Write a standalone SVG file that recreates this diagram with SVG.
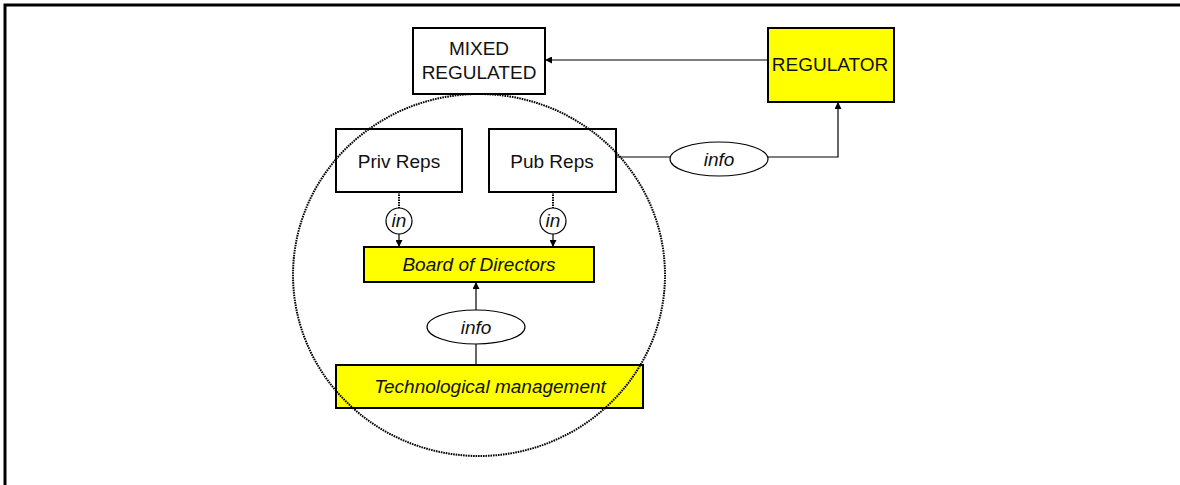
<svg xmlns="http://www.w3.org/2000/svg" width="1180" height="485" viewBox="0 0 1180 485">
  <defs>
    <marker id="arrow" viewBox="0 0 10 10" refX="10" refY="5" markerWidth="8" markerHeight="7" markerUnits="userSpaceOnUse" orient="auto">
      <path d="M0,0 L10,5 L0,10 z" fill="#000"/>
    </marker>
    <style>
      .box { fill: #fff; stroke: #000; stroke-width: 2; }
      .hl { fill: #ffff00; stroke: #000; stroke-width: 2; }
      .oval { fill: #fff; stroke: #000; stroke-width: 1.2; }
      .wire { fill: none; stroke: #000; stroke-width: 1.2; }
      .dots { fill: none; stroke: #000; stroke-width: 2; stroke-dasharray: 1.6 0.9; }
      .t { font-family: "Liberation Sans", Arial, sans-serif; font-size: 19px; fill: #111; text-anchor: middle; }
      .i { font-style: italic; }
    </style>
  </defs>

  <rect width="1180" height="485" fill="#fff"/>
  <!-- frame edges -->
  <path d="M5,485 L5,5 L1180,5" fill="none" stroke="#000" stroke-width="3"/>

  <g id="connectors">
    <path d="M768,60 L545,60" class="wire" marker-end="url(#arrow)"/>
    <path d="M616,157 L670,157" class="wire"/>
    <path d="M768,157 L838,157 L838,102" class="wire" marker-end="url(#arrow)"/>
    <path d="M399,192 L399,208" class="dots"/>
    <path d="M553,192 L553,208" class="dots"/>
    <path d="M399,234 L399,247" class="wire" marker-end="url(#arrow)"/>
    <path d="M553,234 L553,247" class="wire" marker-end="url(#arrow)"/>
    <path d="M476,310 L476,282" class="wire" marker-end="url(#arrow)"/>
    <path d="M476,344 L476,365" class="wire"/>
  </g>

  <g id="mixed-regulated">
    <rect x="413" y="28" width="132" height="66" class="box"/>
    <text x="479" y="55" class="t">MIXED</text>
    <text x="479" y="79" class="t">REGULATED</text>
  </g>

  <g id="regulator">
    <rect x="768" y="28" width="126" height="74" class="hl"/>
    <text x="830" y="71" class="t">REGULATOR</text>
  </g>

  <g id="priv-reps">
    <rect x="336" y="129" width="126" height="63" class="box"/>
    <text x="399" y="168" class="t">Priv Reps</text>
  </g>

  <g id="pub-reps">
    <rect x="489" y="129" width="127" height="63" class="box"/>
    <text x="552" y="168" class="t">Pub Reps</text>
  </g>

  <g id="info-regulator">
    <ellipse cx="719" cy="159" rx="49" ry="17" class="oval"/>
    <text x="719" y="166" class="t i">info</text>
  </g>

  <g id="in-priv">
    <circle cx="399" cy="221" r="13" class="oval"/>
    <text x="399" y="227" class="t i">in</text>
  </g>

  <g id="in-pub">
    <circle cx="553" cy="221" r="13" class="oval"/>
    <text x="553" y="227" class="t i">in</text>
  </g>

  <g id="board">
    <rect x="364" y="247" width="230" height="35" class="hl"/>
    <text x="479" y="271" class="t i">Board of Directors</text>
  </g>

  <g id="info-board">
    <ellipse cx="476" cy="327" rx="49" ry="17" class="oval"/>
    <text x="476" y="334" class="t i">info</text>
  </g>

  <g id="tech-management">
    <rect x="336" y="365" width="307" height="43" class="hl"/>
    <text x="490" y="393" class="t i">Technological management</text>
  </g>

  <!-- organisation boundary, drawn over the boxes it crosses -->
  <g id="boundary">
    <ellipse cx="479" cy="275" rx="186" ry="181" class="dots"/>
  </g>
</svg>
